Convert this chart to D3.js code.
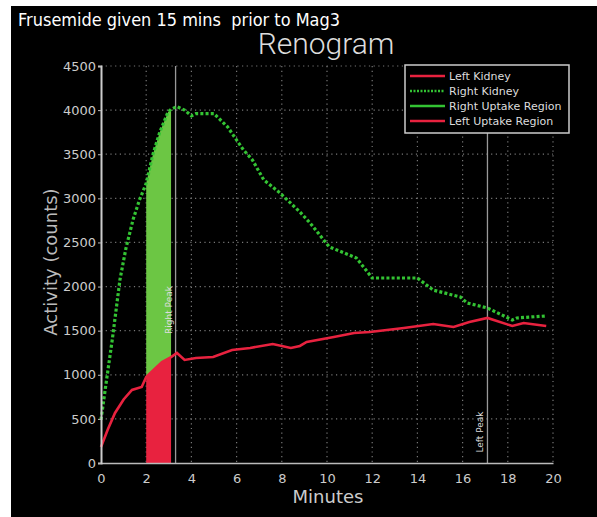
<!DOCTYPE html>
<html><head><meta charset="utf-8">
<script src="https://cdn.jsdelivr.net/npm/d3@7"></script>
<style>html,body{margin:0;padding:0;background:#fff;}</style>
</head><body>
<script>
// ---- data ----
const rightTimes = [0,0.25,0.5,0.84,1.1,1.42,1.7,2.0,2.3,2.6,2.97,3.1,3.36,3.7,4.0,4.2,5.0,5.6,6.3,6.7,7.2,7.9,8.8,9.25,10.1,11.3,12.0,14.0,14.7,15.9,16.2,17.1,18.2,18.4,19.7];
const rightValues = [490,950,1400,2080,2430,2760,2980,3170,3500,3750,3980,4010,4040,4000,3935,3960,3960,3810,3550,3435,3210,3065,2846,2721,2450,2324,2097,2097,1960,1882,1814,1757,1621,1644,1667];
const leftTimes = [0,0.3,0.62,1.0,1.37,1.8,2.0,2.35,2.7,3.1,3.36,3.7,4.2,4.96,5.8,6.6,7.6,8.4,8.8,9.1,10.3,11.2,11.9,13.4,14.7,15.6,16.3,17.1,18.2,18.7,19.7];
const leftValues = [181,380,567,720,828,862,975,1060,1145,1200,1247,1168,1190,1202,1281,1304,1349,1304,1327,1372,1428,1474,1485,1530,1576,1542,1599,1644,1553,1587,1553];
const uptakeStart = 2.0, uptakeEnd = 3.1;
const rightPeak = 3.3, leftPeak = 17.1;
const xTicks = [0,2,4,6,8,10,12,14,16,18,20];
const yTicks = [0,500,1000,1500,2000,2500,3000,3500,4000,4500];
const legendLabels = ["Left Kidney","Right Kidney","Right Uptake Region","Left Uptake Region"];
const titleText = "Frusemide given 15 mins  prior to Mag3";
const chartTitle = "Renogram";

const W = 597, H = 517;
const m = {left:101, right:553, top:66, bottom:463};
const RED = "#e8223f", GREEN = "#33c333", FILLG = "#6cc644";

const svg = d3.select("body").append("svg").attr("width",W).attr("height",H)
  .style("font-family","'DejaVu Sans', sans-serif");
svg.append("rect").attr("width",W).attr("height",H).attr("fill","#fff");
svg.append("rect").attr("x",11).attr("y",6).attr("width",W-11).attr("height",H-6).attr("fill","#000");

const x = d3.scaleLinear().domain([0,20]).range([m.left,m.right]);
const y = d3.scaleLinear().domain([0,4500]).range([m.bottom,m.top]);

const right = rightTimes.map((t,i)=>({t, v:rightValues[i]}));
const left = leftTimes.map((t,i)=>({t, v:leftValues[i]}));

// grid
const grid = svg.append("g").attr("stroke","#777").attr("stroke-width",1.2).attr("stroke-dasharray","1.2,3.5");
yTicks.filter(d=>d>0).forEach(d=>grid.append("line").attr("x1",m.left).attr("x2",m.right).attr("y1",y(d)).attr("y2",y(d)));
xTicks.filter(d=>d>0).forEach(d=>grid.append("line").attr("y1",m.top).attr("y2",m.bottom).attr("x1",x(d)).attr("x2",x(d)));

// fills
const interp = (arr,t)=>{ for(let i=1;i<arr.length;i++){ if(arr[i].t>=t){const a=arr[i-1],b=arr[i];return a.v+(b.v-a.v)*(t-a.t)/(b.t-a.t);} } return arr[arr.length-1].v; };
const ts = Array.from(new Set(rightTimes.concat(leftTimes).filter(t=>t>=uptakeStart&&t<=uptakeEnd).concat([uptakeStart,uptakeEnd]))).sort((a,b)=>a-b);
const band = ts.map(t=>({t, r:interp(right,t), l:interp(left,t)}));
svg.append("path").datum(band).attr("fill",FILLG)
  .attr("d",d3.area().x(d=>x(d.t)).y0(d=>y(d.l)).y1(d=>y(d.r)));
svg.append("path").datum(band).attr("fill",RED)
  .attr("d",d3.area().x(d=>x(d.t)).y0(y(0)).y1(d=>y(d.l)));

// peak lines
[[rightPeak,"Right Peak",310],[leftPeak,"Left Peak",432]].forEach(([t,lab,cy])=>{
  svg.append("line").attr("x1",x(t)).attr("x2",x(t)).attr("y1",m.top).attr("y2",m.bottom)
    .attr("stroke","#999").attr("stroke-width",1.3);
  svg.append("text").attr("transform",`translate(${x(t)-4},${cy}) rotate(-90)`)
    .attr("text-anchor","middle").attr("fill","#ddd").attr("font-size",9).text(lab);
});

// curves
const line = d3.line().x(d=>x(d.t)).y(d=>y(d.v));
svg.append("path").datum(left).attr("fill","none").attr("stroke",RED).attr("stroke-width",2.6).attr("d",line);
svg.append("path").datum(right).attr("fill","none").attr("stroke",GREEN).attr("stroke-width",3.2)
  .attr("stroke-dasharray","3,2.2").attr("d",line);

// axes
const ax = svg.append("g").attr("transform",`translate(0,${m.bottom})`)
  .call(d3.axisBottom(x).tickValues(xTicks).tickSize(0).tickPadding(11));
ax.select(".domain").attr("stroke","#bbb").attr("stroke-width",1.5);
ax.selectAll("text").attr("fill","#ccc").attr("font-size",13).style("font-family","'DejaVu Sans', sans-serif");
const ay = svg.append("g").attr("transform",`translate(${m.left},0)`)
  .call(d3.axisLeft(y).tickValues(yTicks).tickFormat(d3.format("d")).tickSize(3).tickPadding(2));
ay.select(".domain").attr("stroke","#ccc").attr("stroke-width",2);
ay.selectAll(".tick line").attr("stroke","#bbb");
ay.selectAll("text").attr("fill","#ccc").attr("font-size",13).style("font-family","'DejaVu Sans', sans-serif");

// titles
svg.append("text").attr("x",18).attr("y",26).attr("fill","#fff").attr("font-size",17)
  .style("white-space","pre").attr("textLength",322).attr("lengthAdjust","spacingAndGlyphs").text(titleText);
svg.append("text").attr("x",326).attr("y",54).attr("text-anchor","middle").attr("fill","#ddd")
  .attr("font-size",30).style("font-family","'Roboto', sans-serif").attr("font-weight",300).text(chartTitle);
svg.append("text").attr("x",328).attr("y",503).attr("text-anchor","middle").attr("fill","#ccc").attr("font-size",18).text("Minutes");
svg.append("text").attr("transform","translate(57,262) rotate(-90)").attr("text-anchor","middle").attr("fill","#bbb").attr("font-size",18).text("Activity (counts)");

// legend
const lg = svg.append("g");
lg.append("rect").attr("x",405).attr("y",65).attr("width",164).attr("height",68).attr("fill","#000").attr("stroke","#ccc").attr("stroke-width",1.5);
const lstyles = [[RED,null],[GREEN,"2,1.5"],[GREEN,null],[RED,null]];
legendLabels.forEach((lab,i)=>{
  const yy = 76 + i*15;
  lg.append("line").attr("x1",410).attr("x2",445).attr("y1",yy).attr("y2",yy)
    .attr("stroke",lstyles[i][0]).attr("stroke-width",2.6).attr("stroke-dasharray",lstyles[i][1]);
  lg.append("text").attr("x",449).attr("y",yy+4).attr("fill","#ddd").attr("font-size",11).text(lab);
});
</script>
</body></html>
